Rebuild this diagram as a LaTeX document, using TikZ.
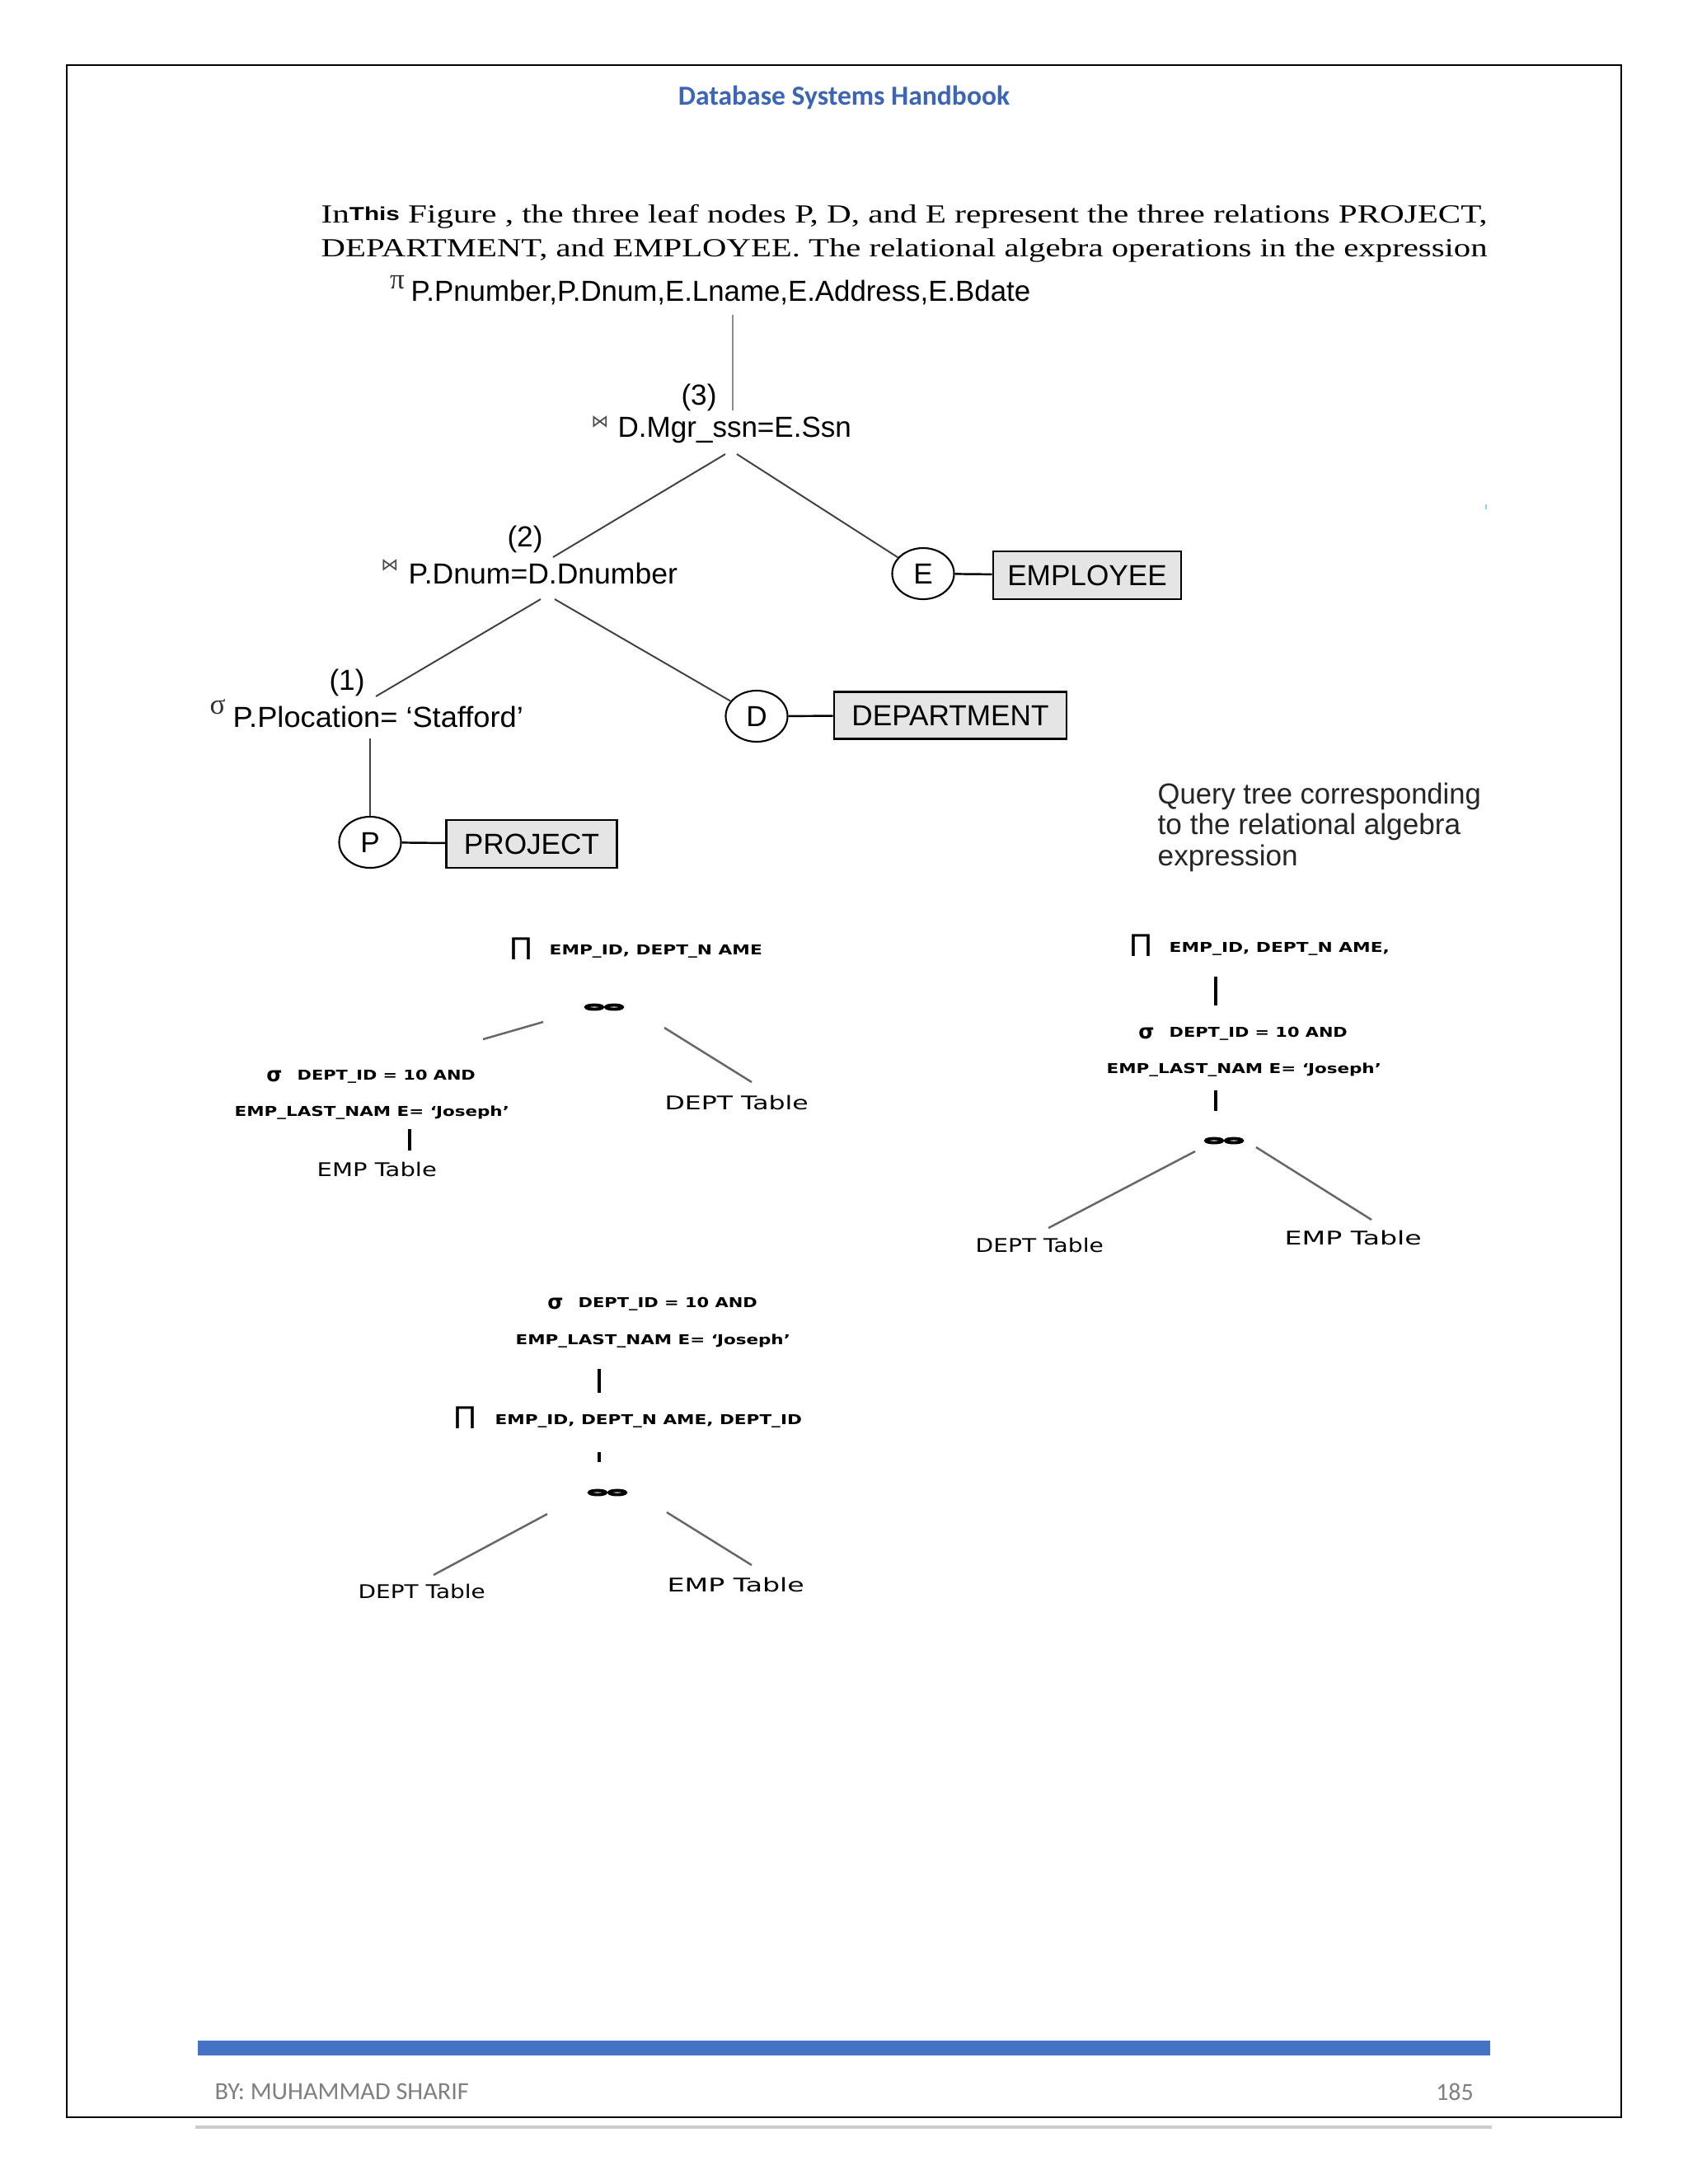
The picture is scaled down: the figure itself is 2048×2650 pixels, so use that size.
\documentclass[tikz,border=0pt]{standalone}
\usepackage{fontspec}
\setmainfont{Liberation Serif}
\newfontfamily\arialf{Liberation Sans}
\newfontfamily\calib{Carlito}
\newfontfamily\dejav{DejaVu Sans}
\usetikzlibrary{shapes.geometric}
\definecolor{barblue}{RGB}{68,114,196}
\definecolor{hdrblue}{RGB}{61,101,181}
\definecolor{footgray}{RGB}{128,128,128}
\newcommand\fitw[2]{\resizebox{#1}{\height}{#2}}
\begin{document}
\begin{tikzpicture}[x=0.01cm,y=-0.01cm,
  lbl/.style={inner sep=0pt, anchor=west},
  tlbl/.style={lbl, font=\arialf\fontsize{10}{12}\selectfont},
  numlbl/.style={inner sep=0pt, font=\arialf\fontsize{10}{12}\selectfont},
  blk/.style={lbl, font=\dejav\bfseries\fontsize{4.7}{6}\selectfont},
  tbl/.style={lbl, font=\dejav\fontsize{6.5}{8}\selectfont},
  leafc/.style={ellipse, draw, line width=0.6pt, minimum width=0.75cm, minimum height=0.62cm, inner sep=0pt, font=\arialf\fontsize{10}{12}\selectfont},
  relbox/.style={draw, line width=0.8pt, fill=black!10, inner sep=0pt, font=\arialf\fontsize{10}{12}\selectfont},
  treeline/.style={line width=0.55pt, draw=black!75},
  vline/.style={line width=0.55pt, draw=black!45},
  pixline/.style={line width=0.7pt, draw=black!60},
  pixbar/.style={line width=1.1pt, draw=black},
  joinbox/.style={inner sep=0pt, minimum width=0.49cm, minimum height=0.1cm},
  joinsym/.pic={\draw[line width=1.1pt] (-12,0) ellipse [x radius=0.1cm, y radius=0.025cm] (12,0) ellipse [x radius=0.1cm, y radius=0.025cm];},
  bigpi/.style={inner sep=0pt, font=\arialf\fontsize{11}{13}\selectfont},
  sigb/.style={inner sep=0pt, font=\dejav\bfseries\fontsize{7}{8}\selectfont},
  smallop/.style={inner sep=0pt, text=black!80, font=\fontsize{10}{11}\selectfont},
  bowtie/.style={inner sep=0pt, text=black!70, font=\dejav\fontsize{6}{7}\selectfont},
  para/.style={inner sep=0pt, anchor=base west, font=\fontsize{9}{11}\selectfont}
]
\useasboundingbox (0,0) rectangle (2048,2650);
\fill[white] (0,0) rectangle (2048,2650);

% page frame, header, footer
\draw[line width=0.8pt] (81,79) rectangle (1967,2569);
\node[inner sep=0pt, text=hdrblue, font=\calib\bfseries\fontsize{9.5}{11}\selectfont] (hdr) at (1024,118) {\fitw{4.02cm}{Database Systems Handbook}};
\fill[barblue] (240,2476) rectangle (1808,2494);
\draw[line width=1pt, black!20] (237,2581) -- (1810,2581);
\node[lbl, text=footgray, font=\calib\fontsize{8.5}{10}\selectfont] (author) at (260,2538) {\fitw{3.08cm}{BY: MUHAMMAD SHARIF}};
\node[inner sep=0pt, text=footgray, font=\calib\fontsize{8.5}{10}\selectfont] (pageno) at (1765,2538) {185};
\fill[cyan!50] (1802,612) rectangle (1804,618);

% paragraph
\node[para] (par1) at (389,270) {\fitw{14.14cm}{In\raisebox{0.8pt}{\arialf\bfseries\fontsize{6.5}{7}\selectfont This} Figure , the three leaf nodes P, D, and E represent the three relations PROJECT,}};
\node[para] (par2) at (389,311) {\fitw{14.14cm}{DEPARTMENT, and EMPLOYEE. The relational algebra operations in the expression}};

% ---------- tree 1 ----------
\node[smallop] (pi1) at (482,343) {π};
\node[tlbl] (proj1) at (498,355) {\fitw{7.51cm}{P.Pnumber,P.Dnum,E.Lname,E.Address,E.Bdate}};
\coordinate (v1a) at (889,382);
\coordinate (v1b) at (889,498);
\draw[vline] (v1a) -- (v1b);
\node[numlbl] (n3) at (848,482) {(3)};
\node[bowtie] (bt3) at (728,512) {⋈};
\node[tlbl] (join3) at (749,522) {\fitw{2.83cm}{D.Mgr\_ssn=E.Ssn}};
\coordinate (j3l) at (880,551);
\coordinate (j3le) at (671,676);
\coordinate (j3r) at (894,551);
\node[numlbl] (n2) at (637,654) {(2)};
\node[bowtie] (bt2) at (473,686) {⋈};
\node[tlbl] (join2) at (495,696) {\fitw{3.26cm}{P.Dnum=D.Dnumber}};
\coordinate (j2l) at (656,727);
\coordinate (j2le) at (456,845);
\coordinate (j2r) at (673,727);
\node[numlbl] (n1) at (421,828) {(1)};
\node[smallop] (sig1) at (264,858) {σ};
\node[tlbl] (sel1) at (282,870) {\fitw{3.52cm}{P.Plocation= ‘Stafford’}};
\coordinate (s1b) at (449,896);

\node[leafc] (E) at (1120,696) {E};
\node[relbox, minimum width=2.28cm, minimum height=0.58cm] (emp) at (1319,698) {EMPLOYEE};
\node[leafc] (D) at (918,869) {D};
\node[relbox, minimum width=2.82cm, minimum height=0.57cm] (dept) at (1153,868) {DEPARTMENT};
\node[leafc] (P) at (449,1022) {P};
\node[relbox, minimum width=2.07cm, minimum height=0.58cm] (projb) at (645,1024) {PROJECT};

\draw[treeline] (j3l) -- (j3le);
\draw[treeline] (j3r) -- (E);
\draw[treeline] (j2l) -- (j2le);
\draw[treeline] (j2r) -- (D);
\draw[treeline] (s1b) -- (P);
\draw[line width=0.7pt] (E) -- (emp);
\draw[line width=0.7pt] (D) -- (dept);
\draw[line width=0.7pt] (P) -- (projb);

\node[lbl, anchor=base west, text=black!85, font=\arialf\fontsize{10}{12}\selectfont] (cap1) at (1404,975) {\fitw{3.92cm}{Query tree corresponding}};
\node[lbl, anchor=base west, text=black!85, font=\arialf\fontsize{10}{12}\selectfont] (cap2) at (1404,1012) {to the relational algebra};
\node[lbl, anchor=base west, text=black!85, font=\arialf\fontsize{10}{12}\selectfont] (cap3) at (1404,1050) {expression};

% ---------- tree 2 ----------
\node[bigpi] (pi2) at (632,1151) {Π};
\node[blk] (proj2) at (666,1154) {\fitw{2.58cm}{EMP\_ID, DEPT\_N AME}};
\node[joinbox] (jn2) at (733,1222) {};
\pic at (jn2) {joinsym};
\coordinate (t2a) at (659,1240);
\coordinate (t2b) at (586,1261);
\coordinate (t2c) at (806,1247);
\coordinate (t2d) at (912,1313);
\draw[pixline] (t2a) -- (t2b);
\draw[pixline] (t2c) -- (t2d);
\node[sigb] (sig2) at (333,1306) {σ};
\node[blk] (sel2a) at (360,1306) {\fitw{2.16cm}{DEPT\_ID = 10 AND}};
\node[blk] (sel2b) at (284,1350) {\fitw{3.33cm}{EMP\_LAST\_NAM E= ‘Joseph’}};
\coordinate (t2e) at (497,1370);
\coordinate (t2f) at (497,1396);
\draw[pixbar] (t2e) -- (t2f);
\node[tbl] (emp2) at (384,1419) {\fitw{1.45cm}{EMP Table}};
\node[tbl] (dept2) at (806,1338) {\fitw{1.74cm}{DEPT Table}};

% ---------- tree 3 ----------
\node[bigpi] (pi3) at (1384,1147) {Π};
\node[blk] (proj3) at (1418,1151) {\fitw{2.67cm}{EMP\_ID, DEPT\_N AME,}};
\coordinate (t3a) at (1475,1185);
\coordinate (t3b) at (1475,1220);
\draw[pixbar] (t3a) -- (t3b);
\node[sigb] (sig3) at (1391,1254) {σ};
\node[blk] (sel3a) at (1418,1254) {\fitw{2.16cm}{DEPT\_ID = 10 AND}};
\node[blk] (sel3b) at (1342,1298) {\fitw{3.33cm}{EMP\_LAST\_NAM E= ‘Joseph’}};
\coordinate (t3c) at (1475,1323);
\coordinate (t3d) at (1475,1348);
\draw[pixbar] (t3c) -- (t3d);
\node[joinbox] (jn3) at (1485,1384) {};
\pic at (jn3) {joinsym};
\coordinate (t3e) at (1450,1397);
\coordinate (t3f) at (1272,1490);
\coordinate (t3g) at (1524,1392);
\coordinate (t3h) at (1664,1480);
\draw[pixline] (t3e) -- (t3f);
\draw[pixline] (t3g) -- (t3h);
\node[tbl] (dept3) at (1183,1511) {\fitw{1.55cm}{DEPT Table}};
\node[tbl] (emp3) at (1558,1502) {\fitw{1.66cm}{EMP Table}};

% ---------- tree 4 ----------
\node[sigb] (sig4) at (674,1582) {σ};
\node[blk] (sel4a) at (701,1582) {\fitw{2.17cm}{DEPT\_ID = 10 AND}};
\node[blk] (sel4b) at (625,1627) {\fitw{3.33cm}{EMP\_LAST\_NAM E= ‘Joseph’}};
\coordinate (t4a) at (727,1661);
\coordinate (t4b) at (727,1690);
\draw[pixbar] (t4a) -- (t4b);
\node[bigpi] (pi4) at (564,1720) {Π};
\node[blk] (proj4) at (600,1724) {\fitw{3.72cm}{EMP\_ID, DEPT\_N AME, DEPT\_ID}};
\coordinate (t4c) at (727,1762);
\coordinate (t4d) at (727,1774);
\draw[pixbar] (t4c) -- (t4d);
\node[joinbox] (jn4) at (737,1811) {};
\pic at (jn4) {joinsym};
\coordinate (t4e) at (664,1837);
\coordinate (t4f) at (526,1911);
\coordinate (t4g) at (809,1835);
\coordinate (t4h) at (912,1899);
\draw[pixline] (t4e) -- (t4f);
\draw[pixline] (t4g) -- (t4h);
\node[tbl] (dept4) at (434,1931) {\fitw{1.54cm}{DEPT Table}};
\node[tbl] (emp4) at (809,1923) {\fitw{1.66cm}{EMP Table}};
\end{tikzpicture}
\end{document}
